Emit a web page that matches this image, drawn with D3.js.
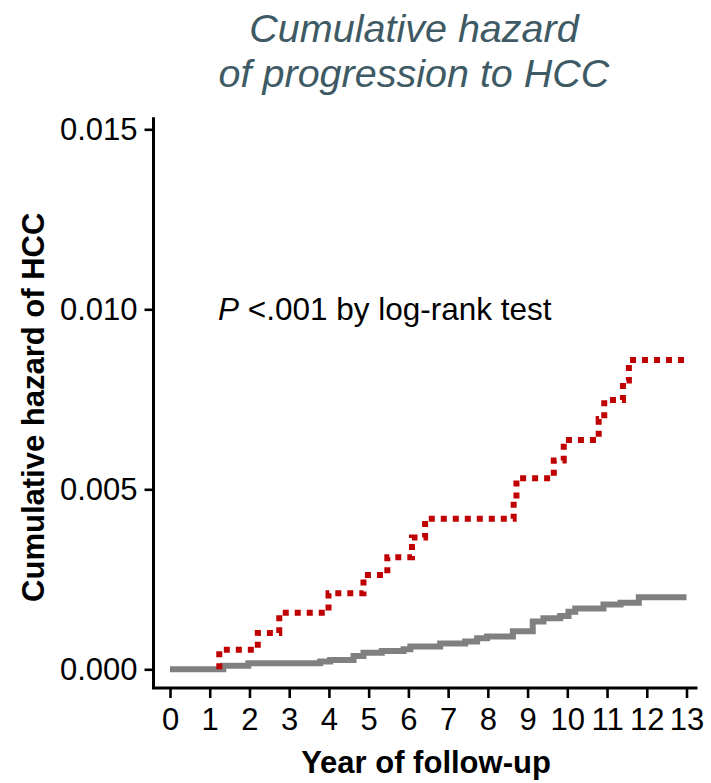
<!DOCTYPE html>
<html>
<head>
<meta charset="utf-8">
<script src="https://cdn.jsdelivr.net/npm/d3@7"></script>
<style>
  html, body { margin: 0; padding: 0; background: #fff; }
  svg { display: block; font-family: "Liberation Sans", Arial, sans-serif; }
</style>
</head>
<body>
<svg id="chart" width="711" height="783"></svg>
<script>
// ---- data ----
const xTicks = [0,1,2,3,4,5,6,7,8,9,10,11,12,13];
const yTicks = [0, 0.005, 0.010, 0.015];
const yTickLabels = ["0.000", "0.005", "0.010", "0.015"];
// group with higher hazard (red, dotted): [year, cumulative hazard]
const redTimes  = [1.24, 1.24, 2.21, 2.75, 3.99, 4.87, 5.47, 6.09, 6.42, 8.65, 8.72, 9.66, 9.91, 10.79, 10.93, 11.40, 11.55, 13];
const redValues = [0, 0.00054, 0.00101, 0.00157, 0.00211, 0.00262, 0.00311, 0.00366, 0.00418, 0.00472, 0.00531, 0.00580, 0.00637, 0.00695, 0.00748, 0.00802, 0.00859, 0.00859];
// reference group (gray, solid)
const grayTimes  = [0, 1.34, 1.97, 3.78, 4.03, 4.62, 4.87, 5.33, 5.88, 6.05, 6.80, 7.43, 7.73, 7.98, 8.63, 9.13, 9.40, 9.82, 10.03, 10.20, 10.91, 11.34, 11.80, 13];
const grayValues = [0, 0.00010, 0.00017, 0.00022, 0.00026, 0.00037, 0.00046, 0.00051, 0.00056, 0.00063, 0.00072, 0.00077, 0.00086, 0.00091, 0.00106, 0.00133, 0.00142, 0.00148, 0.00160, 0.00169, 0.00180, 0.00185, 0.00200, 0.00200];

const titleLines = ["Cumulative hazard", "of progression to HCC"];
const xLabel = "Year of follow-up";
const yLabel = "Cumulative hazard of HCC";

// ---- layout ----
const svg = d3.select("#chart");
const x = d3.scaleLinear().domain([0, 13]).range([170, 686.5]);
const y = d3.scaleLinear().domain([0, 0.015]).range([669.3, 129.3]);
const axisX = 153.5, axisY = 688;

// title
svg.append("text")
  .attr("x", 414).attr("y", 42)
  .attr("text-anchor", "middle")
  .attr("font-style", "italic")
  .attr("font-size", 39.5)
  .attr("fill", "#3e5a64")
  .selectAll("tspan").data(titleLines).join("tspan")
  .attr("x", 414).attr("dy", (d, i) => i === 0 ? 0 : 45)
  .text(d => d);

// y axis
const yAxis = d3.axisLeft(y).tickValues(yTicks)
  .tickFormat((d, i) => yTickLabels[i]).tickSize(9).tickSizeOuter(0).tickPadding(7);
const gy = svg.append("g").attr("transform", `translate(${axisX},0)`).call(yAxis);
gy.select(".domain").remove();
gy.selectAll(".tick line").attr("stroke", "#000").attr("stroke-width", 2.6);
gy.selectAll(".tick text").attr("font-size", 31).attr("fill", "#000")
  .attr("font-family", "'Liberation Sans', Arial, sans-serif");

// x axis
const xAxis = d3.axisBottom(x).tickValues(xTicks).tickSize(10).tickSizeOuter(0).tickPadding(10);
const gx = svg.append("g").attr("transform", `translate(0,${axisY})`).call(xAxis);
gx.select(".domain").remove();
gx.selectAll(".tick line").attr("stroke", "#000").attr("stroke-width", 2.6);
gx.selectAll(".tick text").attr("font-size", 31).attr("fill", "#000")
  .attr("font-family", "'Liberation Sans', Arial, sans-serif");

// axis lines
svg.append("path")
  .attr("d", `M${axisX},${y(0.015) - 12}V${axisY}H${x(13) + 11}`)
  .attr("fill", "none").attr("stroke", "#000").attr("stroke-width", 3);

// axis titles
svg.append("text")
  .attr("x", 426).attr("y", 773)
  .attr("text-anchor", "middle")
  .attr("font-weight", "bold").attr("font-size", 31)
  .text(xLabel);
svg.append("text")
  .attr("transform", `translate(44,${(y(0) + y(0.015)) / 2 + 8}) rotate(-90)`)
  .attr("text-anchor", "middle")
  .attr("font-weight", "bold").attr("font-size", 31)
  .text(yLabel);

// annotation
const ann = svg.append("text").attr("x", 218).attr("y", 320).attr("font-size", 31.5);
ann.append("tspan").attr("font-style", "italic").text("P");
ann.append("tspan").text(" <.001 by log-rank test");

// lines
const line = d3.line().x(d => x(d[0])).y(d => y(d[1])).curve(d3.curveStepAfter);
const grayData = grayTimes.map((t, i) => [t, grayValues[i]]);
const redData = redTimes.map((t, i) => [t, redValues[i]]);

svg.append("path").datum(grayData)
  .attr("d", line).attr("fill", "none")
  .attr("stroke", "#808080").attr("stroke-width", 6);

svg.append("path").datum(redData)
  .attr("d", line).attr("fill", "none")
  .attr("stroke", "#c00000").attr("stroke-width", 6)
  .attr("stroke-dasharray", "6,6");
</script>
</body>
</html>
